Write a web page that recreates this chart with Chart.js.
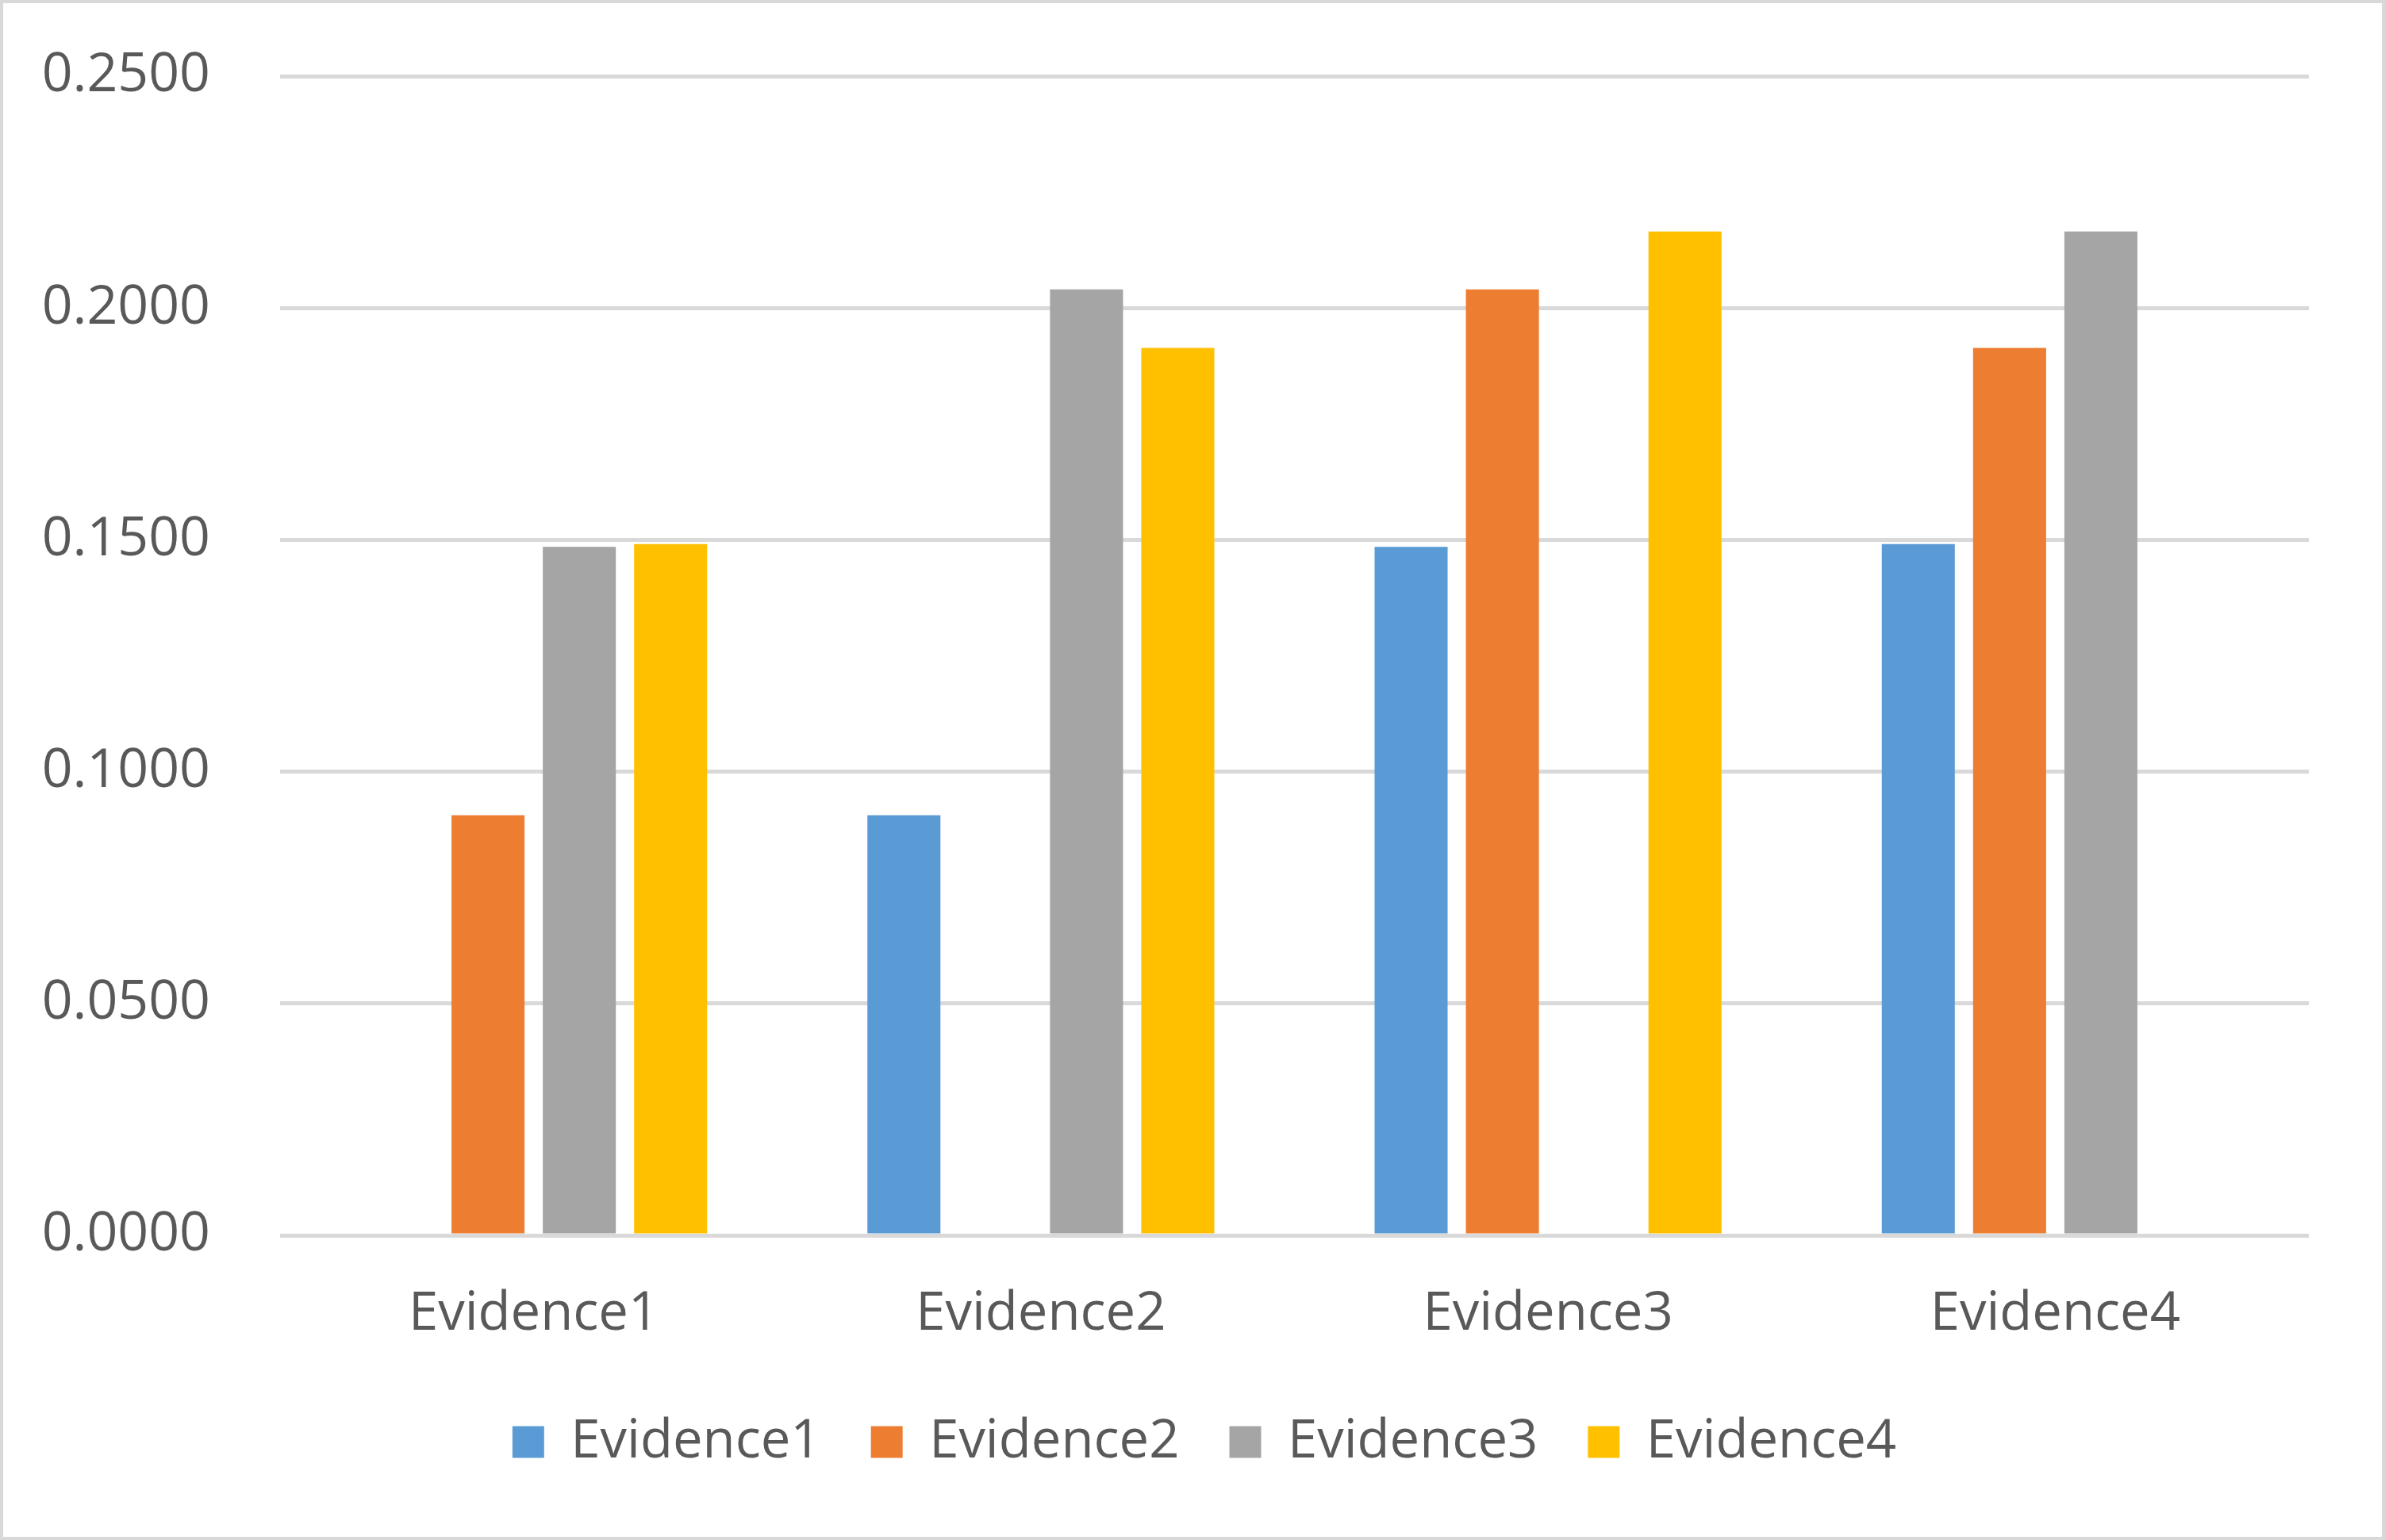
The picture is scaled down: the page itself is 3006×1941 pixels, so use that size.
<!DOCTYPE html>
<html>
<head>
<meta charset="utf-8">
<script src="https://cdn.jsdelivr.net/npm/chart.js@4.4.1/dist/chart.umd.min.js"></script>
<style>
html,body{margin:0;padding:0;background:#fff;}
#wrap{width:3006px;height:1941px;}
</style>
</head>
<body>
<div id="wrap"><canvas id="c" width="3006" height="1941"></canvas></div>
<script>
const categories = ["Evidence1", "Evidence2", "Evidence3", "Evidence4"];
const seriesNames = ["Evidence1", "Evidence2", "Evidence3", "Evidence4"];
const evidence1 = [0, 0.0906, 0.1485, 0.1491];
const evidence2 = [0.0906, 0, 0.2040, 0.1914];
const evidence3 = [0.1485, 0.2040, 0, 0.2165];
const evidence4 = [0.1491, 0.1914, 0.2165, 0];
const yTicks = [0, 0.05, 0.10, 0.15, 0.20, 0.25];
const colors = ["#5B9BD5", "#ED7D31", "#A5A5A5", "#FFC000"];

const seriesValues = [evidence1, evidence2, evidence3, evidence4];
const FONT = "'Open Sans', sans-serif";
const TXT = "#595959";

const frame = {
  id: 'frame',
  beforeDraw(chart) {
    const ctx = chart.ctx;
    ctx.save();
    ctx.fillStyle = '#fff';
    ctx.fillRect(0, 0, chart.width, chart.height);
    ctx.restore();
  },
  afterLayout(chart) {
    if (chart.legend) {
      chart.legend.left += 63;
      chart.legend.right += 63;
    }
  },
  afterDraw(chart) {
    const ctx = chart.ctx;
    ctx.save();
    ctx.strokeStyle = '#d9d9d9';
    ctx.lineWidth = 4;
    ctx.strokeRect(2, 2, chart.width - 4, chart.height - 4);
    ctx.restore();
  }
};

new Chart(document.getElementById('c'), {
  type: 'bar',
  data: {
    labels: categories,
    datasets: seriesNames.map((n, i) => ({
      label: n,
      data: seriesValues[i],
      backgroundColor: colors[i],
      borderWidth: 0,
      categoryPercentage: 0.72,
      barPercentage: 0.8
    }))
  },
  options: {
    responsive: false,
    devicePixelRatio: 1,
    animation: false,
    layout: { padding: { top: 96, right: 96, left: 0, bottom: 80 } },
    plugins: {
      tooltip: { enabled: false },
      legend: {
        position: 'bottom',
        labels: {
          font: { family: FONT, size: 67 },
          color: TXT,
          boxWidth: 40,
          boxHeight: 40,
          padding: 63
        }
      }
    },
    scales: {
      x: {
        grid: { display: false, drawTicks: false },
        border: { display: false },
        ticks: { font: { family: FONT, size: 67 }, color: TXT, padding: 60, maxRotation: 0 },
        afterFit(s) { s.height = 164; s.paddingLeft = 0; s.paddingRight = 0; }
      },
      y: {
        min: 0, max: 0.25,
        afterBuildTicks(s) { s.ticks = yTicks.map(v => ({ value: v })); },
        grid: { color: '#d9d9d9', lineWidth: 5, drawTicks: false },
        border: { display: false },
        ticks: {
          font: { family: FONT, size: 68 }, color: TXT, padding: 88,
          callback: v => Number(v).toFixed(4)
        },
        afterFit(s) { s.width = 353; s.paddingTop = 0; s.paddingBottom = 0; }
      }
    }
  },
  plugins: [frame]
});
</script>
</body>
</html>
